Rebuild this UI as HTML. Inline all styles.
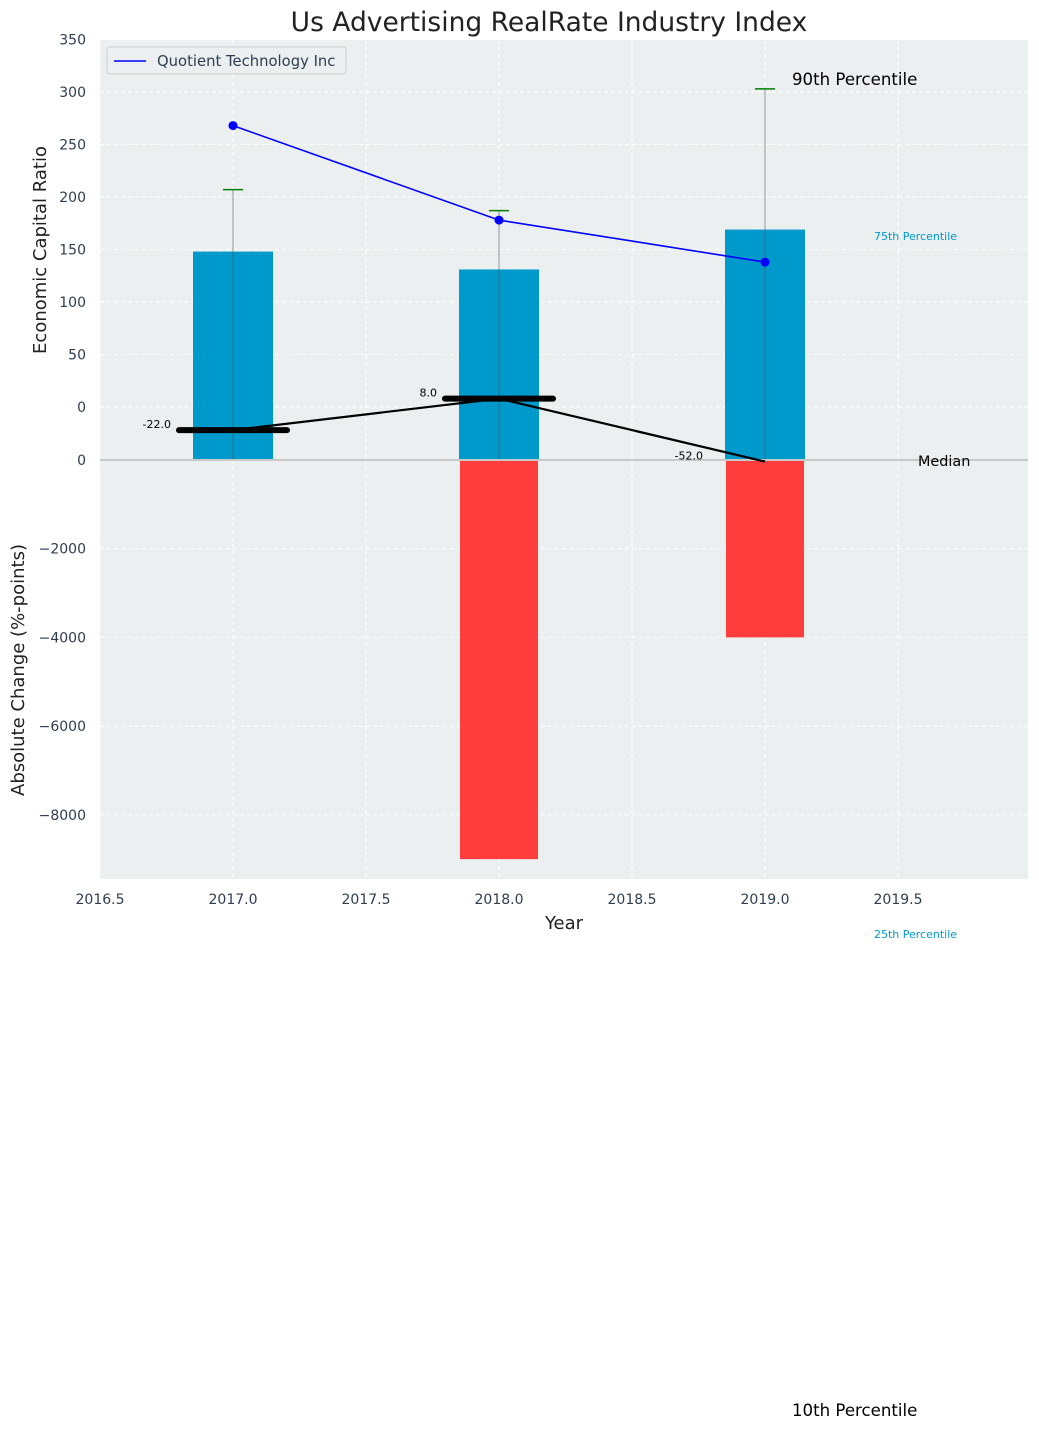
<!DOCTYPE html>
<html><head><meta charset="utf-8"><style>
body{margin:0;background:#fff;}
svg text{font-family:"DejaVu Sans","Liberation Sans",sans-serif;}
</style></head><body>
<svg id="c" width="1039" height="1430" xmlns="http://www.w3.org/2000/svg"></svg>
<script>
const years=[2017,2018,2019];
const ratioBars=[148,131,169];
const companyRatio=[268,178,138];
const p90=[207,187,303];
const medianVals=[-22,8,-52];
const absChange=[0,-9000,-4000];
const yTicksTop=[0,50,100,150,200,250,300,350];
const yTicksBot=[0,-2000,-4000,-6000,-8000];
const xTicks=[2016.5,2017.0,2017.5,2018.0,2018.5,2019.0,2019.5];

const L=100,R=1028,T=40,B=879;
const x=v=>233+(v-2017)*266;
const yT=v=>407-v*1.05;
const yb=v=>460+(-v)*0.04435;
const svg=document.getElementById('c');
const NS='http://www.w3.org/2000/svg';
function el(tag,attrs,text){const e=document.createElementNS(NS,tag);for(const k in attrs)e.setAttribute(k,attrs[k]);if(text!==undefined)e.textContent=text;svg.appendChild(e);return e;}

let e;
e=el('rect',{x:L,y:T,width:R-L,height:B-T,fill:'#ebeff0'});


xTicks.forEach(t=>{e=el('line',{x1:x(t),x2:x(t),y1:T,y2:B,stroke:'#fff','stroke-dasharray':'4,3','stroke-width':1});


e=el('text',{x:x(t),y:904,'text-anchor':'middle','font-size':14,fill:'#2e3e50'},t.toFixed(1));

});
yTicksTop.forEach(t=>{e=el('line',{x1:L,x2:R,y1:yT(t),y2:yT(t),stroke:'#fff','stroke-dasharray':'4,3'});


e=el('text',{x:86,y:yT(t)+5,'text-anchor':'end','font-size':14,fill:'#2e3e50'},t);

});
yTicksBot.forEach(t=>{if(t!==0){e=el('line',{x1:L,x2:R,y1:yb(t),y2:yb(t),stroke:'#fff','stroke-dasharray':'4,3'});

}
e=el('text',{x:86,y:yb(t)+5,'text-anchor':'end','font-size':14,fill:'#2e3e50'},t===0?'0':'\u2212'+(-t));

});
years.forEach((yr,i)=>{
 e=el('rect',{x:x(yr)-40,y:yT(ratioBars[i]),width:80,height:459-yT(ratioBars[i]),fill:'#0099cc'});
 
 
 if(absChange[i]<0){e=el('rect',{x:x(yr)-39,y:461,width:78,height:yb(absChange[i])-461,fill:'#ff3d3d'});
 
 }
 e=el('line',{x1:x(yr),x2:x(yr),y1:yT(p90[i]),y2:460,stroke:'#555','stroke-width':1,opacity:0.6});
 
 
 e=el('line',{x1:x(yr)-10,x2:x(yr)+10,y1:yT(p90[i]),y2:yT(p90[i]),stroke:'green','stroke-width':1.5});
 
 
});
e=el('line',{x1:L,x2:R,y1:460,y2:460,stroke:'#bbb','stroke-width':1.5});


e=el('polyline',{points:years.map((yr,i)=>x(yr)+','+yT(medianVals[i])).join(' '),fill:'none',stroke:'#000','stroke-width':2.2});


years.forEach((yr,i)=>{
 if(i<2){e=el('line',{x1:x(yr)-54,x2:x(yr)+54,y1:yT(medianVals[i]),y2:yT(medianVals[i]),stroke:'#000','stroke-width':6,'stroke-linecap':'round'});
 
 }
 e=el('text',{x:x(yr)-62,y:yT(medianVals[i])-2,'text-anchor':'end','font-size':11,fill:'#000'},medianVals[i].toFixed(1));
 
 
});
e=el('polyline',{points:years.map((yr,i)=>x(yr)+','+yT(companyRatio[i])).join(' '),fill:'none',stroke:'#0000ff','stroke-width':1.6});


years.forEach((yr,i)=>{e=el('circle',{cx:x(yr),cy:yT(companyRatio[i]),r:4.5,fill:'#0000ff'});

});
e=el('rect',{x:107,y:47,width:239,height:27,fill:'#ebeff0',stroke:'#ccc',rx:3});


e=el('line',{x1:114,x2:146,y1:61,y2:61,stroke:'#0000ff','stroke-width':1.6});


e=el('text',{x:157,y:66,'font-size':14.8,fill:'#2e3e50'},'Quotient Technology Inc');


const ann=[[792,85,16.6,'#000','90th Percentile','p90-label'],[874,240,11,'#0099cc','75th Percentile','p75-label'],[918,466,14.4,'#000','Median','median-annotation'],[874,938,11,'#0099cc','25th Percentile','p25-label'],[792,1416,16.6,'#000','10th Percentile','p10-label']];
ann.forEach(a=>{e=el('text',{x:a[0],y:a[1],'font-size':a[2],fill:a[3]},a[4]);

});
e=el('text',{x:549,y:31,'text-anchor':'middle','font-size':26.5,fill:'#222'},'Us Advertising RealRate Industry Index');


e=el('text',{x:564,y:929,'text-anchor':'middle','font-size':18,fill:'#222'},'Year');


e=el('text',{x:0,y:0,'text-anchor':'middle','font-size':18,fill:'#222',transform:'translate(46,250) rotate(-90)'},'Economic Capital Ratio');


e=el('text',{x:0,y:0,'text-anchor':'middle','font-size':18,fill:'#222',transform:'translate(24,670) rotate(-90)'},'Absolute Change (%-points)');


</script>
</body></html>
